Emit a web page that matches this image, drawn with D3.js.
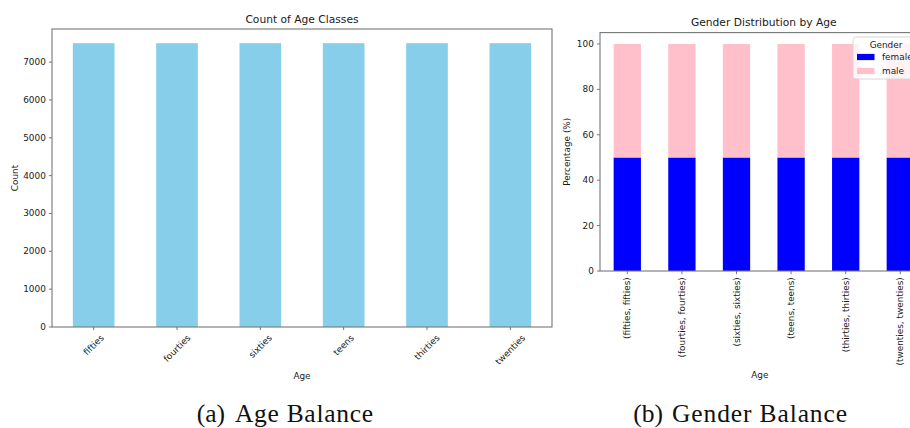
<!DOCTYPE html>
<html>
<head>
<meta charset="utf-8">
<script src="https://cdn.jsdelivr.net/npm/d3@7"></script>
<style>
  body { margin: 0; overflow: hidden; background: #fff; }
  text { font-family: "DejaVu Sans", sans-serif; fill: #1a1a1a; }
  .caption { font-family: "Liberation Serif", serif; font-size: 25.5px; fill: #111; }
</style>
</head>
<body>
<svg id="fig" width="910" height="428"></svg>
<script>
// data
const ageClasses = ["fifties", "fourties", "sixties", "teens", "thirties", "twenties"];
const ageCounts = [7500, 7500, 7500, 7500, 7500, 7500];
const countTicks = [0, 1000, 2000, 3000, 4000, 5000, 6000, 7000];

const genderLabels = ageClasses.map(a => `(${a}, ${a})`);
const femalePct = [50, 50, 50, 50, 50, 50];
const malePct = [50, 50, 50, 50, 50, 50];
const pctTicks = [0, 20, 40, 60, 80, 100];
const genders = ["female", "male"];
const genderColors = ["#0000ff", "#ffc0cb"];

const svg = d3.select("#fig");
const fs = 8.9, tickLen = 3.1, tickPad = 3.1, spineCol = "#777";

// draws spines, ticks and labels for one panel
const drawFrame = (g, x, y, w, h, yTicks) => {
    g.append("rect").attr("x", x.range()[0]).attr("y", y.range()[1])
        .attr("width", w).attr("height", h)
        .style("fill", "none").style("stroke", spineCol).style("stroke-width", 1.1);

    const yt = g.selectAll(".ytick").data(yTicks).enter().append("g");
    yt.append("line").attr("x1", x.range()[0] - tickLen).attr("x2", x.range()[0])
        .attr("y1", d => y(d)).attr("y2", d => y(d))
        .style("stroke", spineCol).style("stroke-width", 1);
    yt.append("text").attr("x", x.range()[0] - tickLen - tickPad).attr("y", d => y(d))
        .attr("text-anchor", "end").attr("dominant-baseline", "central")
        .style("font-size", fs + "px").text(d => d);
};

// ---------- (a) Age balance ----------
const A = { left: 52, top: 29, w: 500, h: 298 };
const xA = d3.scaleLinear().domain([-0.5, 5.5]).range([A.left, A.left + A.w]);
const yA = d3.scaleLinear().domain([0, 7875]).range([A.top + A.h, A.top]);
const gA = svg.append("g");

gA.selectAll(".barA").data(ageCounts).enter().append("rect")
    .attr("x", (d, i) => xA(i - 0.25))
    .attr("width", xA(0.25) - xA(-0.25))
    .attr("y", d => yA(d))
    .attr("height", d => yA(0) - yA(d))
    .style("fill", "#87ceeb");

drawFrame(gA, xA, yA, A.w, A.h, countTicks);

const xtA = gA.selectAll(".xtickA").data(ageClasses).enter().append("g");
xtA.append("line").attr("x1", (d, i) => xA(i)).attr("x2", (d, i) => xA(i))
    .attr("y1", yA(0)).attr("y2", yA(0) + tickLen)
    .style("stroke", spineCol).style("stroke-width", 1);
xtA.append("text")
    .style("font-size", fs + "px")
    .attr("text-anchor", "middle").attr("dominant-baseline", "central")
    .text(d => d)
    .each(function(d, i) {
        const w = this.getComputedTextLength();
        const cy = yA(0) + tickLen + tickPad + (w + fs) * Math.SQRT1_2 / 2;
        d3.select(this).attr("x", xA(i)).attr("y", cy)
            .attr("transform", `rotate(-45,${xA(i)},${cy})`);
    });

gA.append("text").attr("x", A.left + A.w / 2).attr("y", 19)
    .attr("text-anchor", "middle").attr("dominant-baseline", "central")
    .style("font-size", "10.7px").text("Count of Age Classes");
gA.append("text").attr("x", A.left + A.w / 2).attr("y", 376)
    .attr("text-anchor", "middle").attr("dominant-baseline", "central")
    .style("font-size", fs + "px").text("Age");
gA.append("text").attr("transform", `translate(15,${A.top + A.h / 2}) rotate(-90)`)
    .attr("text-anchor", "middle").attr("dominant-baseline", "central")
    .style("font-size", fs + "px").text("Count");

// ---------- (b) Gender balance ----------
const B = { left: 600, top: 32.6, unit: 54.6, h: 238.4 };
const xB = d3.scaleLinear().domain([-0.5, 5.5]).range([B.left, B.left + 6 * B.unit]);
const yB = d3.scaleLinear().domain([0, 105]).range([B.top + B.h, B.top]);
const gB = svg.append("g");

const stackRows = ageClasses.map((a, i) => ({ female: femalePct[i], male: malePct[i] }));
const stacked = d3.stack().keys(genders)(stackRows);

gB.selectAll(".layer").data(stacked).enter().append("g")
    .style("fill", (d, k) => genderColors[k])
    .selectAll("rect").data(d => d).enter().append("rect")
    .attr("x", (d, i) => xB(i - 0.25))
    .attr("width", xB(0.25) - xB(-0.25))
    .attr("y", d => yB(d[1]))
    .attr("height", d => yB(d[0]) - yB(d[1]));

drawFrame(gB, xB, yB, 6 * B.unit, B.h, pctTicks);

const xtB = gB.selectAll(".xtickB").data(genderLabels).enter().append("g");
xtB.append("line").attr("x1", (d, i) => xB(i)).attr("x2", (d, i) => xB(i))
    .attr("y1", yB(0)).attr("y2", yB(0) + tickLen)
    .style("stroke", spineCol).style("stroke-width", 1);
xtB.append("text")
    .style("font-size", fs + "px")
    .attr("text-anchor", "end").attr("dominant-baseline", "central")
    .attr("transform", (d, i) => `translate(${xB(i)},${yB(0) + tickLen + tickPad}) rotate(-90)`)
    .text(d => d);

gB.append("text").attr("x", xB(2.5)).attr("y", 22)
    .attr("text-anchor", "middle").attr("dominant-baseline", "central")
    .style("font-size", "10.7px").text("Gender Distribution by Age");
gB.append("text").attr("x", xB(2.5) - 4).attr("y", 375)
    .attr("text-anchor", "middle").attr("dominant-baseline", "central")
    .style("font-size", fs + "px").text("Age");
gB.append("text").attr("transform", `translate(567,${B.top + B.h / 2}) rotate(-90)`)
    .attr("text-anchor", "middle").attr("dominant-baseline", "central")
    .style("font-size", fs + "px").text("Percentage (%)");

// legend (upper right, partly cut off by the figure edge as in the source)
const leg = gB.append("g").attr("transform", "translate(853,37)");
leg.append("rect").attr("width", 70).attr("height", 42).attr("rx", 2.5)
    .style("fill", "rgba(255,255,255,0.8)").style("stroke", "#d6d6d6").style("stroke-width", 1);
leg.append("text").attr("x", 33).attr("y", 7.5)
    .attr("text-anchor", "middle").attr("dominant-baseline", "central")
    .style("font-size", fs + "px").text("Gender");
const items = leg.selectAll(".item").data(genders).enter().append("g")
    .attr("transform", (d, i) => `translate(4,${20 + i * 14})`);
items.append("rect").attr("width", 17.5).attr("height", 6.2).attr("y", -3.1)
    .style("fill", (d, i) => genderColors[i]);
items.append("text").attr("x", 25).attr("dominant-baseline", "central")
    .style("font-size", fs + "px").text(d => d);

// captions
const captions = [
    { tag: "(a)", text: "Age Balance", tagEnd: 225, tx: 235, len: 138 },
    { tag: "(b)", text: "Gender Balance", tagEnd: 663, tx: 672, len: 175 }
];
captions.forEach(c => {
    svg.append("text").attr("class", "caption").attr("x", c.tagEnd).attr("y", 422)
        .attr("text-anchor", "end").text(c.tag);
    svg.append("text").attr("class", "caption").attr("x", c.tx).attr("y", 422)
        .attr("textLength", c.len).attr("lengthAdjust", "spacing").text(c.text);
});
</script>
</body>
</html>
